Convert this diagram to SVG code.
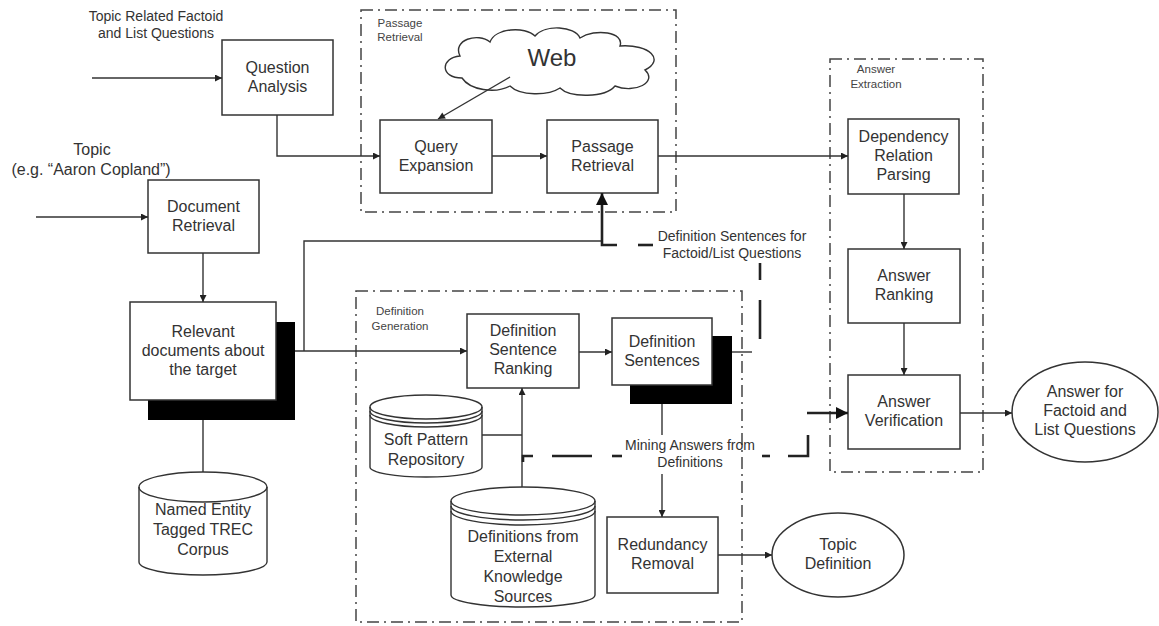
<svg xmlns="http://www.w3.org/2000/svg" width="1159" height="626" viewBox="0 0 1159 626">
<defs>
<style>
.box{fill:#fff;stroke:#333;stroke-width:1.5}
.shadow{fill:#000}
.grp{fill:none;stroke:#444;stroke-width:1.5;stroke-dasharray:12 5 2 5}
.ln{fill:none;stroke:#333;stroke-width:1.4}
.thick{fill:none;stroke:#222;stroke-width:2.6}
.t{font-family:"Liberation Sans",Arial,sans-serif;font-size:16px;fill:#333;text-anchor:middle}
.s{font-family:"Liberation Sans",Arial,sans-serif;font-size:14px;fill:#333;text-anchor:middle}
.g{font-family:"Liberation Sans",Arial,sans-serif;font-size:11.5px;fill:#444;text-anchor:middle}
.cyl{fill:#fff;stroke:#333;stroke-width:1.4}
</style>
<marker id="arr" viewBox="0 0 10 10" refX="10" refY="5" markerWidth="9" markerHeight="7" markerUnits="userSpaceOnUse" orient="auto"><path d="M0,0 L10,5 L0,10 z" fill="#222"/></marker>
<marker id="arrBig" viewBox="0 0 10 10" refX="10" refY="5" markerWidth="16" markerHeight="12" markerUnits="userSpaceOnUse" orient="auto"><path d="M0,0 L10,5 L0,10 z" fill="#111"/></marker>
</defs>
<rect width="1159" height="626" fill="#fff"/>

<!-- group frames -->
<g id="grp-passage"><rect class="grp" x="361" y="10" width="315" height="202"/><text class="g" x="400" y="27">Passage</text><text class="g" x="400" y="41">Retrieval</text></g>
<g id="grp-answer"><rect class="grp" x="830" y="59" width="153" height="413"/><text class="g" x="876" y="73">Answer</text><text class="g" x="876" y="88">Extraction</text></g>
<g id="grp-definition"><rect class="grp" x="356" y="291" width="386" height="331"/><text class="g" x="400" y="315">Definition</text><text class="g" x="400" y="330">Generation</text></g>

<!-- free labels -->
<g id="lbl-topic-questions"><text class="s" x="156" y="21">Topic Related Factoid</text><text class="s" x="156" y="38">and List Questions</text></g>
<g id="lbl-topic"><text class="t" x="92" y="155">Topic</text><text class="t" x="91" y="175">(e.g. “Aaron Copland”)</text></g>

<!-- nodes -->
<g id="question-analysis"><rect class="box" x="222" y="40" width="111" height="75"/><text class="t" x="277.5" y="73">Question</text><text class="t" x="277.5" y="92">Analysis</text></g>
<g id="web"><path class="cyl" d="M462 78 C440 78 440 58 460 56 C452 40 478 32 490 42 C495 28 525 26 535 36 C545 24 575 26 580 38 C595 28 625 32 620 46 C650 44 665 60 645 70 C658 82 635 94 615 86 C605 98 570 98 560 88 C548 96 520 96 510 86 C495 94 470 90 462 78 Z"/><text class="t" style="font-size:24px" x="552" y="66">Web</text></g>
<g id="query-expansion"><rect class="box" x="380" y="120" width="112" height="73"/><text class="t" x="436" y="152">Query</text><text class="t" x="436" y="171">Expansion</text></g>
<g id="passage-retrieval"><rect class="box" x="547" y="120" width="111" height="73"/><text class="t" x="602.5" y="152">Passage</text><text class="t" x="602.5" y="171">Retrieval</text></g>
<g id="document-retrieval"><rect class="box" x="148" y="180" width="111" height="73"/><text class="t" x="203.5" y="212">Document</text><text class="t" x="203.5" y="231">Retrieval</text></g>
<g id="relevant-docs"><rect class="shadow" x="148" y="322" width="147" height="98"/><rect class="box" x="130" y="302" width="146" height="98"/><text class="t" x="203" y="337">Relevant</text><text class="t" x="203" y="356">documents about</text><text class="t" x="203" y="375">the target</text></g>
<g id="named-entity-corpus"><path class="cyl" d="M139 487 A64 15 0 0 1 267 487 V562 A64 13 0 0 1 139 562 Z"/><path class="ln" d="M139 487 A64 15 0 0 0 267 487"/><text class="t" x="203" y="515">Named Entity</text><text class="t" x="203" y="535">Tagged TREC</text><text class="t" x="203" y="555">Corpus</text></g>
<g id="def-sentence-ranking"><rect class="box" x="467" y="314" width="112" height="74"/><text class="t" x="523" y="336">Definition</text><text class="t" x="523" y="355">Sentence</text><text class="t" x="523" y="374">Ranking</text></g>
<g id="def-sentences"><rect class="shadow" x="630" y="336" width="102" height="68"/><rect class="box" x="612" y="318" width="100" height="67"/><text class="t" x="662" y="347">Definition</text><text class="t" x="662" y="366">Sentences</text></g>
<g id="soft-pattern"><path class="cyl" d="M370 407 A56 12 0 0 1 482 407 V467 A56 10 0 0 1 370 467 Z"/><path class="ln" d="M370 407 A56 12 0 0 0 482 407 M370 411 A56 12 0 0 0 482 411 M370 415 A56 12 0 0 0 482 415"/><text class="t" x="426" y="445">Soft Pattern</text><text class="t" x="426" y="465">Repository</text></g>
<g id="external-defs"><path class="cyl" d="M451 501 A72 14 0 0 1 595 501 V595 A72 12 0 0 1 451 595 Z"/><path class="ln" d="M451 501 A72 14 0 0 0 595 501 M451 506 A72 14 0 0 0 595 506 M451 511 A72 14 0 0 0 595 511"/><text class="t" x="523" y="542">Definitions from</text><text class="t" x="523" y="562">External</text><text class="t" x="523" y="582">Knowledge</text><text class="t" x="523" y="602">Sources</text></g>
<g id="redundancy-removal"><rect class="box" x="607" y="517" width="111" height="76"/><text class="t" x="662.5" y="550">Redundancy</text><text class="t" x="662.5" y="569">Removal</text></g>
<g id="topic-definition"><ellipse class="box" cx="838" cy="555" rx="66" ry="42"/><text class="t" x="838" y="550">Topic</text><text class="t" x="838" y="569">Definition</text></g>
<g id="dependency-parsing"><rect class="box" x="848" y="119" width="111" height="75"/><text class="t" x="903.5" y="142">Dependency</text><text class="t" x="903.5" y="161">Relation</text><text class="t" x="903.5" y="180">Parsing</text></g>
<g id="answer-ranking"><rect class="box" x="848" y="249" width="112" height="74"/><text class="t" x="904" y="281">Answer</text><text class="t" x="904" y="300">Ranking</text></g>
<g id="answer-verification"><rect class="box" x="848" y="375" width="112" height="74"/><text class="t" x="904" y="407">Answer</text><text class="t" x="904" y="426">Verification</text></g>
<g id="answer-output"><ellipse class="box" cx="1085" cy="412" rx="73" ry="50"/><text class="t" x="1085" y="397">Answer for</text><text class="t" x="1085" y="416">Factoid and</text><text class="t" x="1085" y="435">List Questions</text></g>

<!-- connectors -->
<g id="connectors">
<path class="ln" d="M92 78 H222" marker-end="url(#arr)"/>
<path class="ln" d="M277 115 V156 H380" marker-end="url(#arr)"/>
<path class="ln" d="M510 77 L438 119" marker-end="url(#arr)"/>
<path class="ln" d="M492 156 H547" marker-end="url(#arr)"/>
<path class="ln" d="M658 156 H848" marker-end="url(#arr)"/>
<path class="ln" d="M36 217 H148" marker-end="url(#arr)"/>
<path class="ln" d="M203 253 V302" marker-end="url(#arr)"/>
<path class="ln" d="M203 420 V472"/>
<path class="ln" d="M295 351 H467" marker-end="url(#arr)"/>
<path class="ln" d="M304 351 V241 H602"/>
<path class="ln" d="M579 352 H612" marker-end="url(#arr)"/>
<path class="ln" d="M482 435 H522"/>
<path class="ln" d="M522 487 V388" marker-end="url(#arr)"/>
<path class="ln" d="M662 404 V435"/>
<path class="ln" d="M662 474 V517" marker-end="url(#arr)"/>
<path class="ln" d="M718 555 H772" marker-end="url(#arr)"/>
<path class="ln" d="M904 194 V249" marker-end="url(#arr)"/>
<path class="ln" d="M904 323 V375" marker-end="url(#arr)"/>
<path class="ln" d="M960 413 H1012" marker-end="url(#arr)"/>
<path class="ln" d="M732 352 H752"/>
<!-- thick dashed: definition sentences for factoid/list -->
<path class="thick" d="M760 339 V300"/>
<path class="thick" d="M760 280 V263"/>
<path class="thick" d="M653 245 H638"/>
<path class="thick" d="M617 245 H602 V193" marker-end="url(#arrBig)"/>
<text class="s" x="732" y="241">Definition Sentences for</text>
<text class="s" x="732" y="258">Factoid/List Questions</text>
<!-- thick dashed: mining answers -->
<path class="thick" d="M523 462 V456 H533"/>
<path class="thick" d="M552 456 H592"/>
<path class="thick" d="M612 456 H622"/>
<path class="thick" d="M762 456 H770"/>
<path class="thick" d="M788 456 H808 V435"/>
<path class="thick" d="M807 413 H848" marker-end="url(#arrBig)"/>
<text class="s" x="690" y="450">Mining Answers from</text>
<text class="s" x="690" y="467">Definitions</text>
</g>
</svg>
